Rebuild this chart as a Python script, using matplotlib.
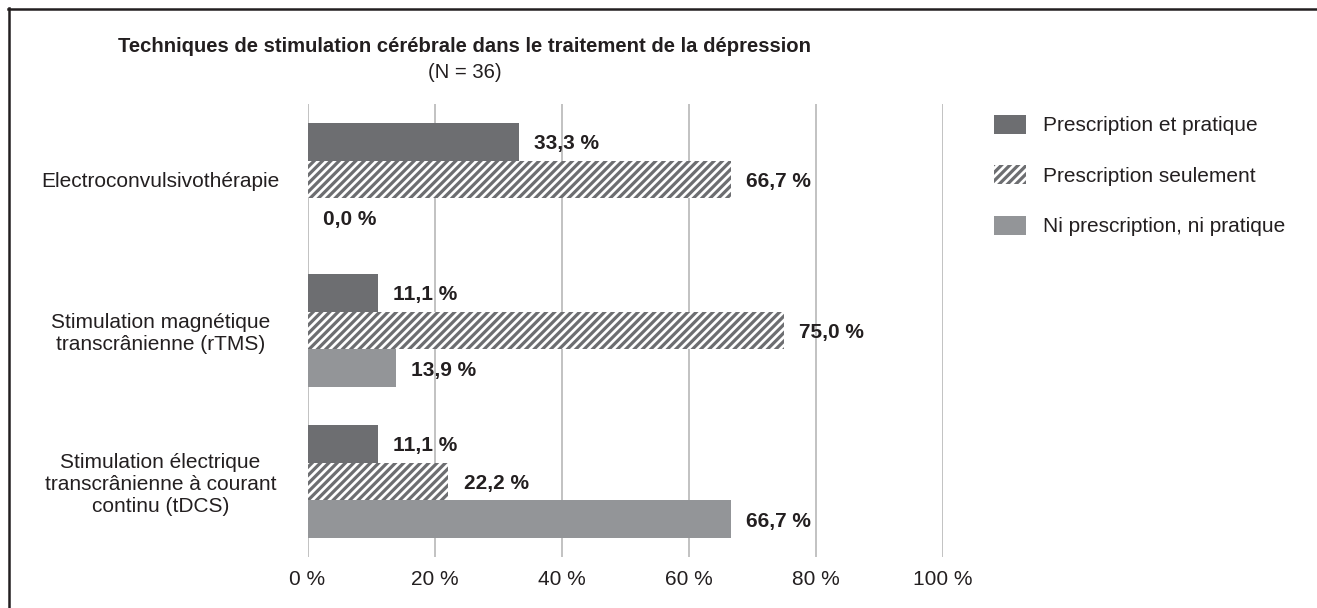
import matplotlib.pyplot as plt
from matplotlib.lines import Line2D

plt.rcParams['font.family'] = ['Liberation Sans', 'DejaVu Sans']
plt.rcParams['hatch.linewidth'] = 2.3

# Data
categories = ["Electroconvulsivothérapie",
              "Stimulation magnétique\ntranscrânienne (rTMS)",
              "Stimulation électrique\ntranscrânienne à courant\ncontinu (tDCS)"]
series_names = ["Prescription et pratique", "Prescription seulement", "Ni prescription, ni pratique"]
prescription_pratique = [33.3, 11.1, 11.1]
prescription_seulement = [66.7, 75.0, 22.2]
ni_prescription = [0.0, 13.9, 66.7]
xticks = [0, 20, 40, 60, 80, 100]

dark = '#6d6e71'
light = '#939598'
text_col = '#231f20'
fs = 15

fig = plt.figure(figsize=(13.17, 6.08), dpi=100)
ax = fig.add_axes([307.5 / 1317, 1 - 557 / 608, 635 / 1317, 453 / 608])

h = 0.25
ys = list(range(len(categories)))
series = [prescription_pratique, prescription_seulement, ni_prescription]
styles = [dict(color=dark, linewidth=0),
          dict(facecolor='white', edgecolor=dark, hatch='////', linewidth=0),
          dict(color=light, linewidth=0)]

for k, (vals, name, st) in enumerate(zip(series, series_names, styles)):
    pos = [y + (k - 1) * h for y in ys]
    ax.barh(pos, vals, height=h, label=name, **st)
    for p, v in zip(pos, vals):
        ax.annotate(f"{v:.1f} %".replace('.', ','), (v, p), xytext=(11, -1.5),
                    textcoords='offset points', ha='left', va='center',
                    fontsize=fs, fontweight='bold', color=text_col)

ax.set_xlim(0, 100)
ax.set_ylim(2.5, -0.5)
ax.set_xticks(xticks)
ax.set_xticklabels([f"{t} %" for t in xticks])
ax.set_yticks(ys)
ax.set_yticklabels(categories, ha='center', linespacing=1.2)
ax.tick_params(axis='y', length=0, pad=106, labelsize=fs, labelcolor=text_col)
ax.tick_params(axis='x', length=0, pad=9.5, labelsize=fs, labelcolor=text_col)
ax.grid(axis='x', color='#b8b8b8', linewidth=1.2)
ax.set_axisbelow(True)
for s in ax.spines.values():
    s.set_visible(False)

fig.text(465 / 1317, 1 - 47 / 608, "Techniques de stimulation cérébrale dans le traitement de la dépression",
         ha='center', va='center', fontsize=14.6, fontweight='bold', color=text_col)
fig.text(465 / 1317, 1 - 73 / 608, "(N = 36)", ha='center', va='center', fontsize=14.6, color=text_col)

fig.legend(loc='upper left', bbox_to_anchor=(994 / 1317, 1 - 115 / 608), frameon=False,
           fontsize=fs, handlelength=1.54, handleheight=1.0, labelspacing=1.44,
           handletextpad=0.82, borderaxespad=0, borderpad=0, labelcolor=text_col)

# frame lines (top and left)
fig.add_artist(Line2D([8 / 1317, 1], [1 - 8.5 / 608] * 2, color=text_col, linewidth=1.8,
                      transform=fig.transFigure))
fig.add_artist(Line2D([8.5 / 1317] * 2, [0, 1 - 8 / 608], color=text_col, linewidth=1.8,
                      transform=fig.transFigure))

fig.savefig('out.png', dpi=100)
